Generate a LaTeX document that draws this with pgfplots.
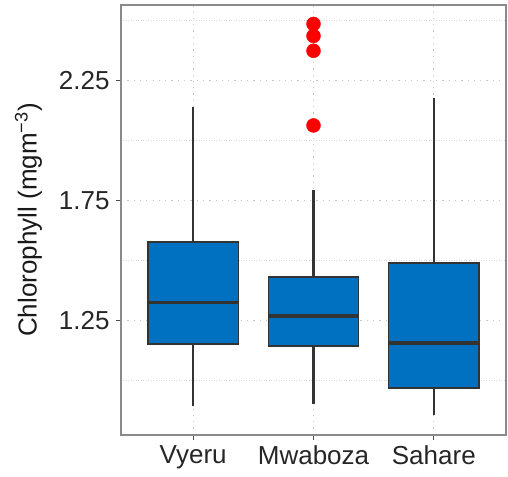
\documentclass[border=0pt]{standalone}
\usepackage{pgfplots}
\pgfplotsset{compat=1.18}
\usepgfplotslibrary{statistics}
\usepackage{fontspec}
\setmainfont{Liberation Sans}
\definecolor{boxblue}{HTML}{0070C0}
\definecolor{boxline}{HTML}{333333}
\definecolor{framegray}{HTML}{8A8A8A}
\definecolor{tickgray}{HTML}{4D4D4D}
\begin{document}
\begin{tikzpicture}
\begin{axis}[
  scale only axis, width=385pt, height=430pt,
  xmin=0.4, xmax=3.6, ymin=0.771, ymax=2.565,
  xtick={1,2,3}, xticklabels={Vyeru,Mwaboza,Sahare},
  ytick={1.25,1.75,2.25}, minor ytick={1.0,1.5,2.0,2.5},
  yticklabel style={/pgf/number format/fixed, /pgf/number format/precision=2, /pgf/number format/fixed zerofill},
  /pgf/number format/assume math mode=true,
  ticklabel style={font=\fontsize{26}{30}\selectfont, text=black!85},
  tick align=outside, tick pos=left,
  major tick length=5pt, minor tick length=0pt,
  tick style={tickgray, line width=1.2pt},
  axis line style={framegray, line width=1.5pt},
  grid=both,
  major grid style={gray!45, line width=1.3pt, dash pattern=on 1.3pt off 5pt},
  minor grid style={gray!30, line width=0.9pt, dash pattern=on 0.9pt off 1.6pt},
  ylabel={Chlorophyll (mgm\textsuperscript{\char"2212 3})},
  ylabel style={font=\fontsize{26}{30}\selectfont, text=black!90},
  ylabel shift=10pt,
  xticklabel style={yshift=-2pt},
  yticklabel style={xshift=-3pt},
  boxplot/draw direction=y,
  boxplot/every median/.style={line width=3.5pt},
  boxplot/every whisker/.style={line width=2.4pt, draw=boxline},
]
\addplot[boxplot prepared={draw position=1, lower whisker=0.893, lower quartile=1.15, median=1.324, upper quartile=1.575, upper whisker=2.1375, box extend=0.75, whisker extend=0},
  fill=boxblue, draw=boxline, line width=1.6pt, solid] coordinates {};
\addplot[boxplot prepared={draw position=2, lower whisker=0.90, lower quartile=1.142, median=1.268, upper quartile=1.429, upper whisker=1.792, box extend=0.75, whisker extend=0},
  fill=boxblue, draw=boxline, line width=1.6pt, solid] coordinates {};
\addplot[boxplot prepared={draw position=3, lower whisker=0.853, lower quartile=0.968, median=1.154, upper quartile=1.489, upper whisker=2.177, box extend=0.75, whisker extend=0},
  fill=boxblue, draw=boxline, line width=1.6pt, solid] coordinates {};
\addplot[only marks, mark=*, mark size=7pt, color=red, mark options={draw=red, fill=red}] coordinates {(2,2.486) (2,2.436) (2,2.374) (2,2.0625)};
\end{axis}
\path (current axis.south west) ++(-121pt,-41pt) coordinate (bbsw);
\path (current axis.north east) ++(2pt,5pt) coordinate (bbne);
\path (bbsw) rectangle (bbne);
\end{tikzpicture}
\end{document}
